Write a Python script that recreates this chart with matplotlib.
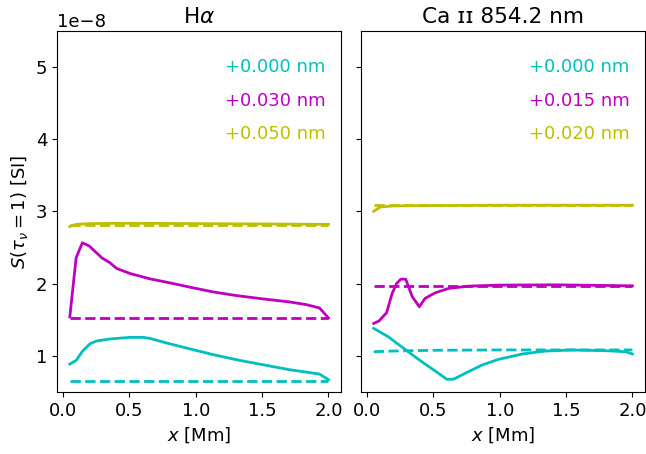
import numpy as np
import matplotlib
matplotlib.use("Agg")
import matplotlib.pyplot as plt

plt.rcParams['font.size'] = 13

# H-alpha panel
ha_x_m = [0.05, 0.098, 0.145, 0.198, 0.291, 0.353, 0.404, 0.504, 0.654, 0.805,
          0.98, 1.13, 1.306, 1.506, 1.707, 1.832, 1.932, 2.0]
ha_m = [1.537, 2.357, 2.565, 2.518, 2.357, 2.287, 2.208, 2.139, 2.065, 2.009,
        1.94, 1.884, 1.833, 1.787, 1.745, 1.708, 1.662, 1.523]
ha_x_c = [0.05, 0.098, 0.145, 0.203, 0.253, 0.353, 0.504, 0.604, 0.654, 0.78,
          0.98, 1.156, 1.331, 1.506, 1.707, 1.932, 2.0]
ha_c = [0.884, 0.935, 1.06, 1.167, 1.204, 1.232, 1.254, 1.254, 1.24, 1.176,
        1.083, 1.004, 0.935, 0.875, 0.806, 0.746, 0.667]
ha_x_y = [0.05, 0.1, 0.2, 0.5, 1.0, 1.5, 2.0]
ha_y = [2.79, 2.82, 2.83, 2.835, 2.83, 2.825, 2.82]
ha_ref_x = [0.05, 2.0]
ha_ref_c = [0.643, 0.643]
ha_ref_m = [1.52, 1.52]
ha_ref_y = [2.815, 2.815]

# Ca II 854.2 panel
ca_x_m = [0.05, 0.089, 0.147, 0.189, 0.223, 0.255, 0.291, 0.341, 0.394, 0.437,
          0.513, 0.614, 0.765, 0.992, 1.422, 2.0]
ca_m = [1.448, 1.48, 1.595, 1.863, 2.001, 2.061, 2.061, 1.816, 1.678, 1.794,
        1.871, 1.932, 1.964, 1.978, 1.982, 1.968]
ca_x_c = [0.05, 0.159, 0.286, 0.412, 0.538, 0.601, 0.652, 0.74, 0.867, 0.992,
          1.17, 1.346, 1.548, 1.8, 1.952, 2.0]
ca_c = [1.379, 1.263, 1.088, 0.917, 0.757, 0.674, 0.674, 0.757, 0.871, 0.95,
        1.024, 1.065, 1.079, 1.069, 1.055, 1.024]
ca_x_y = [0.05, 0.1, 0.2, 0.5, 1.0, 2.0]
ca_y = [3.0, 3.06, 3.075, 3.08, 3.085, 3.085]
ca_ref_x = [0.05, 0.2, 0.5, 1.0, 2.0]
ca_ref_c = [1.055, 1.065, 1.075, 1.08, 1.08]
ca_ref_m = [1.968, 1.968, 1.968, 1.968, 1.968]
ca_ref_y = [3.09, 3.09, 3.09, 3.09, 3.09]

ha_labels = ['+0.000 nm', '+0.030 nm', '+0.050 nm']
ca_labels = ['+0.000 nm', '+0.015 nm', '+0.020 nm']
colors = ['c', 'm', 'y']

fig, (ax1, ax2) = plt.subplots(1, 2, figsize=(6.46, 4.54), dpi=100, sharey=True)
fig.subplots_adjust(left=0.088, right=0.999, top=0.932, bottom=0.137, wspace=0.068)

s = 1e-8
ax1.plot(ha_x_c, np.array(ha_c) * s, 'c-', lw=2)
ax1.plot(ha_ref_x, np.array(ha_ref_c) * s, 'c--', lw=2)
ax1.plot(ha_x_m, np.array(ha_m) * s, 'm-', lw=2)
ax1.plot(ha_ref_x, np.array(ha_ref_m) * s, 'm--', lw=2)
ax1.plot(ha_x_y, np.array(ha_y) * s, 'y-', lw=2)
ax1.plot(ha_ref_x, np.array(ha_ref_y) * s, 'y--', lw=2)

ax2.plot(ca_x_c, np.array(ca_c) * s, 'c-', lw=2)
ax2.plot(ca_ref_x, np.array(ca_ref_c) * s, 'c--', lw=2)
ax2.plot(ca_x_m, np.array(ca_m) * s, 'm-', lw=2)
ax2.plot(ca_ref_x, np.array(ca_ref_m) * s, 'm--', lw=2)
ax2.plot(ca_x_y, np.array(ca_y) * s, 'y-', lw=2)
ax2.plot(ca_ref_x, np.array(ca_ref_y) * s, 'y--', lw=2)

for ax, labels in [(ax1, ha_labels), (ax2, ca_labels)]:
    for i, (lab, col) in enumerate(zip(labels, colors)):
        ax.text(0.945, 0.9 - i * 0.093, lab, color=col, ha='right', va='center',
                transform=ax.transAxes)
    ax.set_xlabel('$x$ [Mm]')
    ax.set_xticks([0.0, 0.5, 1.0, 1.5, 2.0])

ax1.set_ylim(0.5e-8, 5.5e-8)
ax1.set_ylabel(r'$S(\tau_\nu = 1)$ [SI]')
ax1.set_title(r'H$\alpha$')
ax2.set_title('Ca ɪɪ 854.2 nm')

plt.savefig('out.png')
